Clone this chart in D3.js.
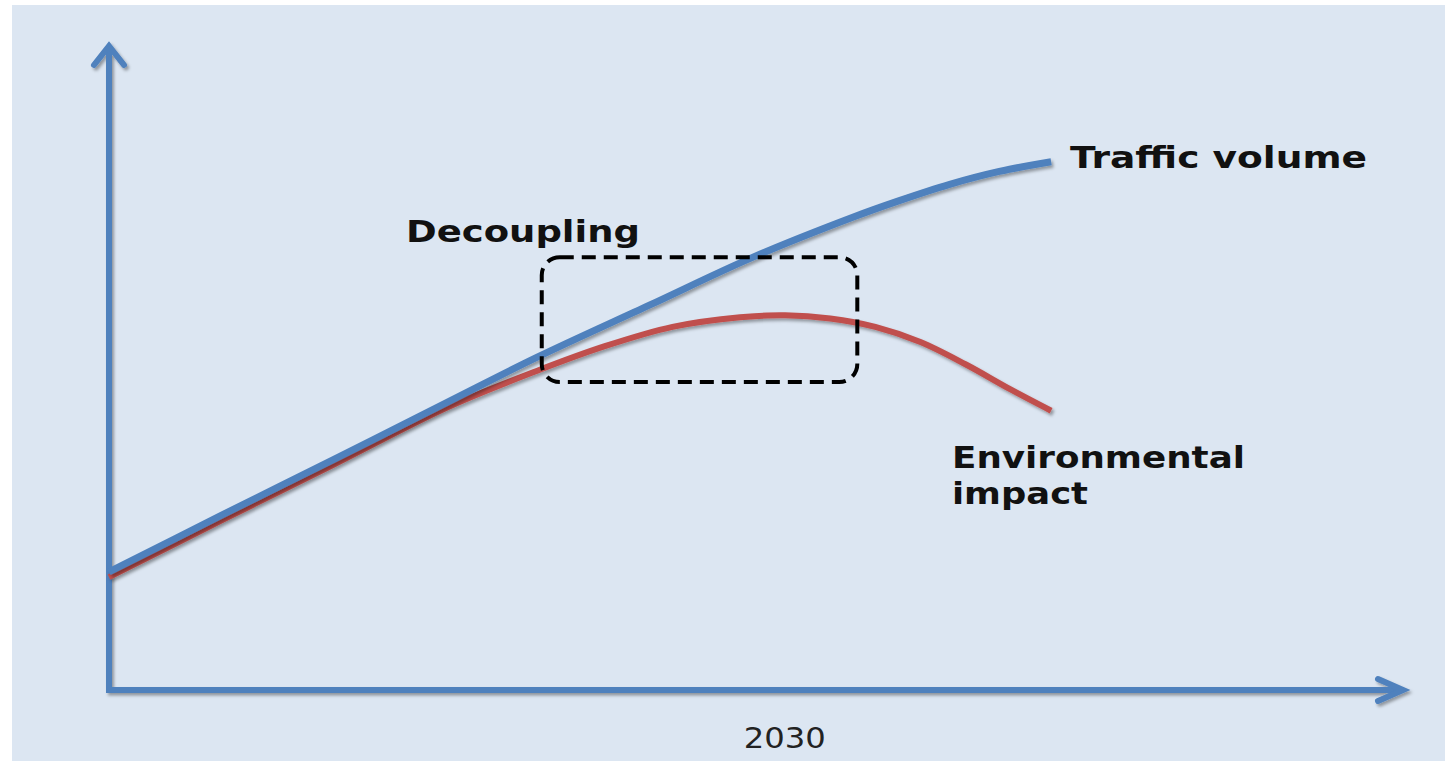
<!DOCTYPE html>
<html>
<head>
<meta charset="utf-8">
<script src="https://cdn.jsdelivr.net/npm/d3@7"></script>
<style>
  html, body { margin: 0; padding: 0; background: #ffffff; }
  svg { display: block; }
</style>
</head>
<body>
<svg id="chart" width="1445" height="761"></svg>
<script>
// ---- data ----
const trafficYears = [2000, 2005, 2010, 2015, 2019, 2024, 2028.5, 2033, 2035, 2037.3, 2039.5, 2041.8];
const trafficVolume = [18.3, 27.1, 35.8, 44.6, 51.6, 59.7, 67.0, 73.3, 75.8, 78.4, 80.4, 81.9];
const impactYears = [2000, 2005, 2010, 2015, 2019, 2022, 2025, 2028, 2030, 2032, 2034, 2036, 2038, 2040, 2041.8];
const environmentalImpact = [17.5, 26.3, 35.0, 43.8, 49.5, 53.3, 56.3, 57.8, 58.1, 57.6, 56.3, 53.95, 50.5, 46.6, 43.3];
const xTicks = [2030];
const labels = { traffic: "Traffic volume", impact: ["Environmental", "impact"], decoupling: "Decoupling" };
const decouplingWindow = { x0: 2019.2, x1: 2033.2, y0: 47.75, y1: 67.1 };

// ---- setup ----
const svg = d3.select("#chart");
const W = 1445, H = 761;
const x = d3.scaleLinear().domain([2000, 2057.5]).range([109, 1405]);
const y = d3.scaleLinear().domain([0, 100]).range([690, 45]);

const defs = svg.append("defs");
const f = defs.append("filter").attr("id", "shadow").attr("x", "-5%").attr("y", "-5%").attr("width", "110%").attr("height", "120%");
f.append("feDropShadow").attr("dx", 2).attr("dy", 2.5).attr("stdDeviation", 1.6).attr("flood-color", "#000").attr("flood-opacity", 0.35);

svg.append("rect").attr("x", 12).attr("y", 5).attr("width", W - 12).attr("height", H - 5).attr("fill", "#dce6f2");

const blue = "#4f81bd", red = "#c0504d";

// ---- axes ----
const axisG = svg.append("g").attr("filter", "url(#shadow)");
const x0 = x.range()[0], x1 = x.range()[1], yb = y.range()[0], yt = y.range()[1];
axisG.append("path")
  .attr("d", `M${x0},${yt + 2} L${x0},${yb} L${x1 - 3},${yb}`)
  .attr("fill", "none").attr("stroke", blue).attr("stroke-width", 6).attr("stroke-linejoin", "miter");
axisG.append("path")
  .attr("d", `M${x0 - 15},${yt + 20} L${x0},${yt + 1} L${x0 + 15},${yt + 20}`)
  .attr("fill", "none").attr("stroke", blue).attr("stroke-width", 6).attr("stroke-linecap", "round").attr("stroke-linejoin", "miter");
axisG.append("path")
  .attr("d", `M${x1 - 27},${yb - 11} L${x1 - 2},${yb} L${x1 - 27},${yb + 11}`)
  .attr("fill", "none").attr("stroke", blue).attr("stroke-width", 6).attr("stroke-linecap", "round").attr("stroke-linejoin", "miter");

const xAxis = d3.axisBottom(x).tickValues(xTicks).tickSize(0).tickPadding(0).tickFormat(d3.format("d"));
const xg = svg.append("g").attr("transform", `translate(0,${yb})`).call(xAxis);
xg.select(".domain").remove();
xg.selectAll("text")
  .attr("y", 58).attr("dy", 0).attr("x", -1)
  .attr("font-family", "'DejaVu Sans', sans-serif").attr("font-size", 29).attr("fill", "#222")
  .attr("textLength", 82).attr("lengthAdjust", "spacingAndGlyphs");

// ---- lines ----
const line = d3.line().x(d => x(d[0])).y(d => y(d[1])).curve(d3.curveCatmullRom.alpha(0.5));
const impactData = impactYears.map((yr, i) => [yr, environmentalImpact[i]]);
const trafficData = trafficYears.map((yr, i) => [yr, trafficVolume[i]]);

svg.append("path").datum(impactData).attr("d", line)
  .attr("fill", "none").attr("stroke", red).attr("stroke-width", 6).attr("filter", "url(#shadow)");
svg.append("path").datum(trafficData).attr("d", line)
  .attr("fill", "none").attr("stroke", blue).attr("stroke-width", 7).attr("filter", "url(#shadow)");

// ---- decoupling box ----
svg.append("rect")
  .attr("x", x(decouplingWindow.x0)).attr("y", y(decouplingWindow.y1))
  .attr("width", x(decouplingWindow.x1) - x(decouplingWindow.x0))
  .attr("height", y(decouplingWindow.y0) - y(decouplingWindow.y1))
  .attr("rx", 18).attr("ry", 18)
  .attr("fill", "none").attr("stroke", "#000").attr("stroke-width", 4)
  .attr("stroke-dasharray", "14 8");

// ---- labels ----
const font = "'DejaVu Sans', Verdana, sans-serif";
function label(txt, px, py, len) {
  svg.append("text").attr("x", px).attr("y", py).text(txt)
    .attr("font-family", font).attr("font-weight", "bold").attr("font-size", 31)
    .attr("fill", "#111").attr("textLength", len).attr("lengthAdjust", "spacingAndGlyphs");
}
label(labels.traffic, 1070, 168, 297);
label(labels.decoupling, 406, 242, 234);
label(labels.impact[0], 952, 468, 293);
label(labels.impact[1], 952, 504, 136);
</script>
</body>
</html>
